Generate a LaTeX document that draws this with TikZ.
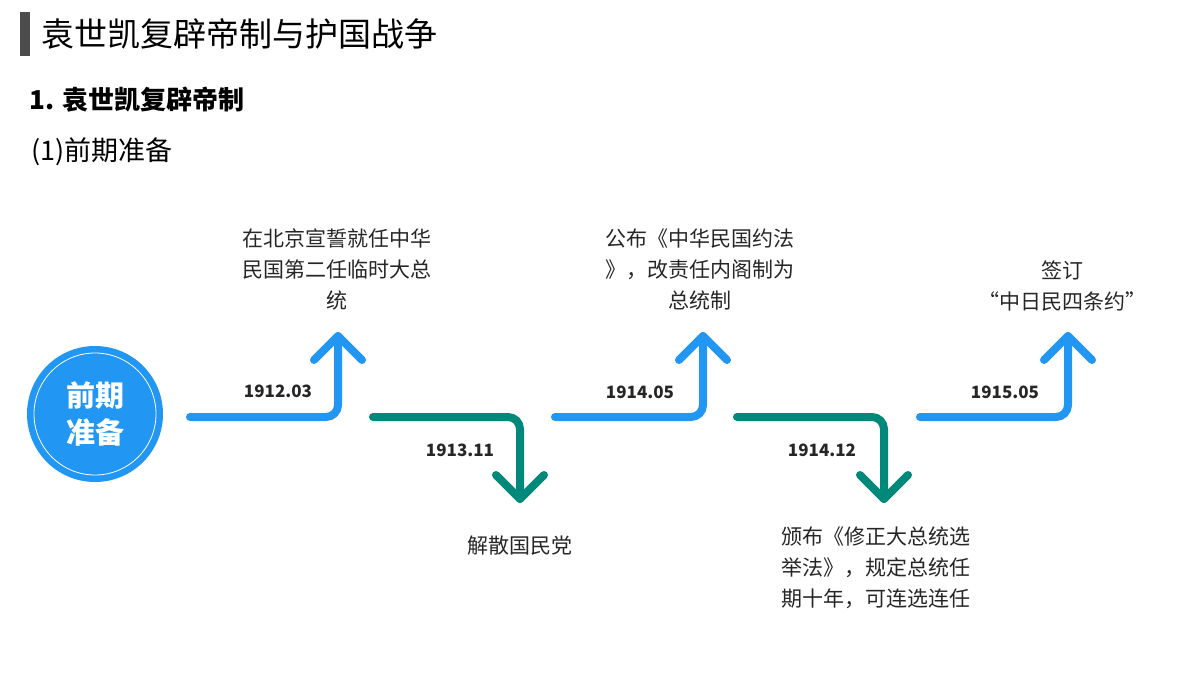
\documentclass[tikz,border=0pt]{standalone}
\usepackage{fontspec}
\setmainfont{Noto Sans CJK SC}
\definecolor{upblue}{RGB}{33,150,243}
\definecolor{downgreen}{RGB}{0,137,123}
\begin{document}
\begin{tikzpicture}[x=1pt,y=-1pt,
  upline/.style={draw=upblue,line width=8pt,line cap=round,line join=round,rounded corners=12pt},
  downline/.style={draw=downgreen,line width=8pt,line cap=round,line join=round,rounded corners=12pt},
  datelbl/.style={font=\bfseries\fontsize{17}{20}\selectfont,text=black!85},
  eventtxt/.style={align=center,font=\fontsize{21}{31}\selectfont,text=black!85}]
\useasboundingbox (0,0) rectangle (1200,675);
% title
\fill[black!70] (20,12) rectangle (30,56);
\node[anchor=west,font=\fontsize{33}{36}\selectfont] (title) at (38,34) {袁世凯复辟帝制与护国战争};
\node[anchor=west,font=\bfseries\fontsize{26}{30}\selectfont] (sec) at (26,100) {1. 袁世凯复辟帝制};
\node[anchor=west,font=\fontsize{27}{30}\selectfont] (sub) at (28,152) {(1)前期准备};
% circle
\node[circle,fill=upblue,minimum size=136pt] (start) at (95,414) {};
\draw[white,line width=0.8pt] (start) circle (61pt);
\node[text=white,align=center,font=\bfseries\fontsize{29}{37}\selectfont] at (start) {前期\\准备};
% arrows
\foreach \x/\k in {190/a,555/c,920/e}{
  \coordinate (\k0) at (\x,417);
  \coordinate (\k1) at (\x+148,417);
  \coordinate (\k2) at (\x+148,336);
  \draw[upline] (\k0) -- (\k1) -- (\k2);
  \draw[upblue,line width=8pt,line cap=round,line join=round] (\x+124,360) -- (\k2) -- (\x+172,360);
}
\foreach \x/\k in {373/b,737/d}{
  \coordinate (\k0) at (\x,417);
  \coordinate (\k1) at (\x+147,417);
  \coordinate (\k2) at (\x+147,499);
  \draw[downline] (\k0) -- (\k1) -- (\k2);
  \draw[downgreen,line width=8pt,line cap=round,line join=round] (\x+123,475) -- (\k2) -- (\x+171,475);
}
% dates
\node[datelbl] (da) at (278,391) {1912.03};
\node[datelbl] (db) at (460,450) {1913.11};
\node[datelbl] (dc) at (640,392) {1914.05};
\node[datelbl] (dd) at (822,450) {1914.12};
\node[datelbl] (de) at (1005,392) {1915.05};
% events
\node[eventtxt] (ea) at (337,269) {在北京宣誓就任中华\\民国第二任临时大总\\统};
\node[eventtxt] (eb) at (520,546) {解散国民党};
\node[eventtxt] (ec) at (700,269) {公布《中华民国约法\\》，改责任内阁制为\\总统制};
\node[eventtxt,align=left,anchor=north west] (ed) at (778,523) {颁布《修正大总统选\\举法》，规定总统任\\期十年，可连选连任};
\node[eventtxt] (ee) at (1062,286) {签订\\“中日民四条约”};
\end{tikzpicture}
\end{document}
